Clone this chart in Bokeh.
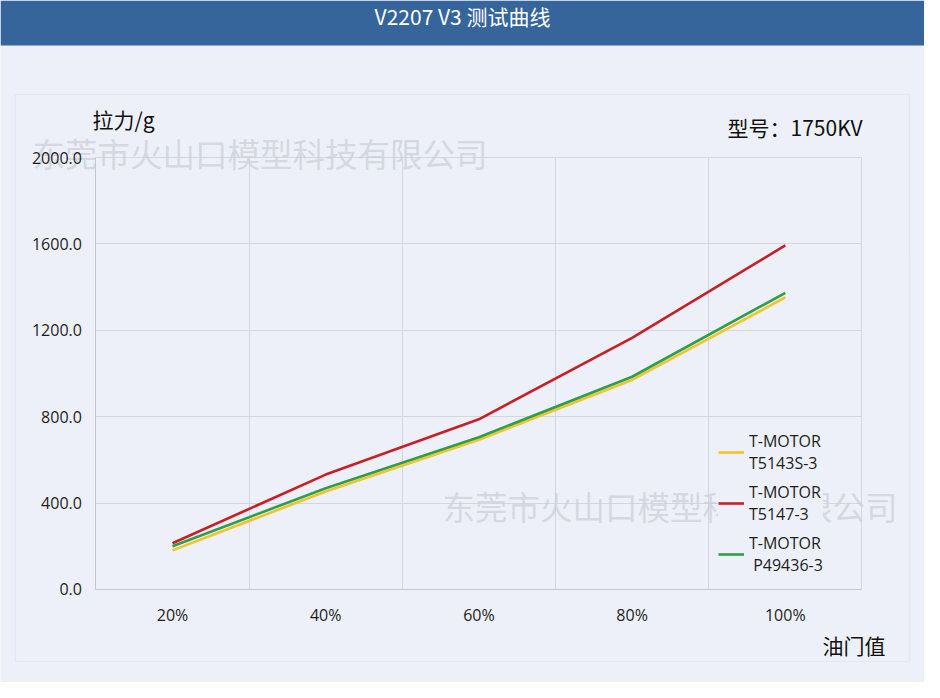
import numpy as np
from bokeh.plotting import figure
from bokeh.models import (Range1d, FixedTicker, Legend, LegendItem, Label, LinearAxis,
                          Grid, BoxAnnotation, NumeralTickFormatter)
from bokeh.embed import file_html
from bokeh.resources import INLINE

# ---- data ----
categories = ["20%", "40%", "60%", "80%", "100%"]
t5143s = [181, 454, 693, 970, 1352]
t5147 = [214, 532, 788, 1165, 1593]
p49436 = [200, 469, 705, 985, 1373]
y_ticks = [0, 400, 800, 1200, 1600, 2000]
series_names = ["T-MOTOR\nT5143S-3", "T-MOTOR\nT5147-3", "T-MOTOR\n P49436-3"]
series_colors = ["#f0c42c", "#c81e25", "#2f9e48"]
title_text = "V2207 V3 测试曲线"
y_label = "拉力/g"
x_label = "油门值"
model_text = "型号：1750KV"
watermark = "东莞市火山口模型科技有限公司"

BG = "#edf0f8"
HEADER = "#35659b"
GRID = "#d3d6e0"
AXIS = "#c3c6d1"
CJK = "Noto Sans CJK SC"

n = len(categories)
xs = np.arange(n)
y_max = y_ticks[-1]

# whole canvas is the frame; axes sit at fixed locations inside it
p = figure(width=924, height=682,
           x_range=Range1d(-1.1227, 4.9086), y_range=Range1d(-430.6, 2726.9),
           x_axis_type=None, y_axis_type=None, toolbar_location=None,
           output_backend="svg", min_border=0)
p.background_fill_color = BG
p.border_fill_color = BG
p.outline_line_color = None

# header bar
p.add_layout(BoxAnnotation(bottom=2518.5, fill_color=HEADER, fill_alpha=1,
                           line_color=None, level="underlay"))
p.add_layout(Label(x=1.893, y=2655, text=title_text, text_align="center",
                   text_baseline="middle", text_color="white",
                   text_font_size="21px", text_font=CJK))

# panel frame
p.add_layout(BoxAnnotation(left=-1.0248, right=4.8107, top=2291.7, bottom=-333.3,
                           fill_alpha=0, line_color=GRID, line_width=1.2,
                           level="underlay"))

# grids
xgrid = Grid(dimension=0,
             ticker=FixedTicker(ticks=[float(v) - 0.5 for v in range(n + 1)]),
             bounds=(-0.5, n - 0.5), cross_bounds=(0, y_max),
             grid_line_color=GRID)
ygrid = Grid(dimension=1, ticker=FixedTicker(ticks=y_ticks),
             bounds=(0, y_max), cross_bounds=(-0.5, n - 0.5),
             grid_line_color=GRID)
p.add_layout(xgrid)
p.add_layout(ygrid)

# axes
xaxis = LinearAxis(fixed_location=0, bounds=(-0.5, n - 0.5),
                   ticker=FixedTicker(ticks=[int(v) for v in xs]),
                   major_label_overrides={int(i): c for i, c in zip(xs, categories)})
yaxis = LinearAxis(fixed_location=-0.5, bounds=(0, y_max),
                   ticker=FixedTicker(ticks=y_ticks),
                   formatter=NumeralTickFormatter(format="0.0"))
for ax in (xaxis, yaxis):
    ax.axis_line_color = AXIS
    ax.major_tick_line_color = None
    ax.minor_tick_line_color = None
    ax.major_label_text_font = "Open Sans"
    ax.major_label_text_font_size = "16px"
    ax.major_label_text_color = "#1e1e1e"
xaxis.major_label_standoff = 9
yaxis.major_label_standoff = 8
p.add_layout(xaxis, "below")
p.add_layout(yaxis, "left")

# watermarks
for wx, wy in [(-0.914, 2023), (1.762, 389)]:
    p.add_layout(Label(x=wx, y=wy, text=watermark, text_font=CJK,
                       text_font_size="32.5px", text_color="#cdd0d8", text_alpha=0.75,
                       text_baseline="middle", level="underlay"))

renderers = []
for vals, col in zip([t5143s, t5147, p49436], series_colors):
    r = p.line(xs, vals, line_color=col, line_width=2.6)
    renderers.append(r)

legend = Legend(items=[LegendItem(label=nm, renderers=[r]) for nm, r in zip(series_names, renderers)],
                location=(718, 106))
legend.background_fill_color = BG
legend.background_fill_alpha = 1
legend.border_line_color = None
legend.label_text_font = "Open Sans"
legend.label_text_font_size = "16px"
legend.label_text_color = "#1e1e1e"
legend.label_text_line_height = 1.4
legend.glyph_width = 26
legend.spacing = 7
legend.padding = 6
p.add_layout(legend)

p.add_layout(Label(x=-0.522, y=2178, text=y_label, text_font=CJK, text_font_size="21px",
                   text_color="#111111", text_baseline="middle"))
p.add_layout(Label(x=4.504, y=2139, text=model_text, text_font=CJK, text_font_size="21px",
                   text_color="#111111", text_baseline="middle", text_align="right"))
p.add_layout(Label(x=4.654, y=-255, text=x_label, text_font=CJK, text_font_size="21px",
                   text_color="#111111", text_baseline="middle", text_align="right"))

open("out.html", "w").write(file_html(p, INLINE))
